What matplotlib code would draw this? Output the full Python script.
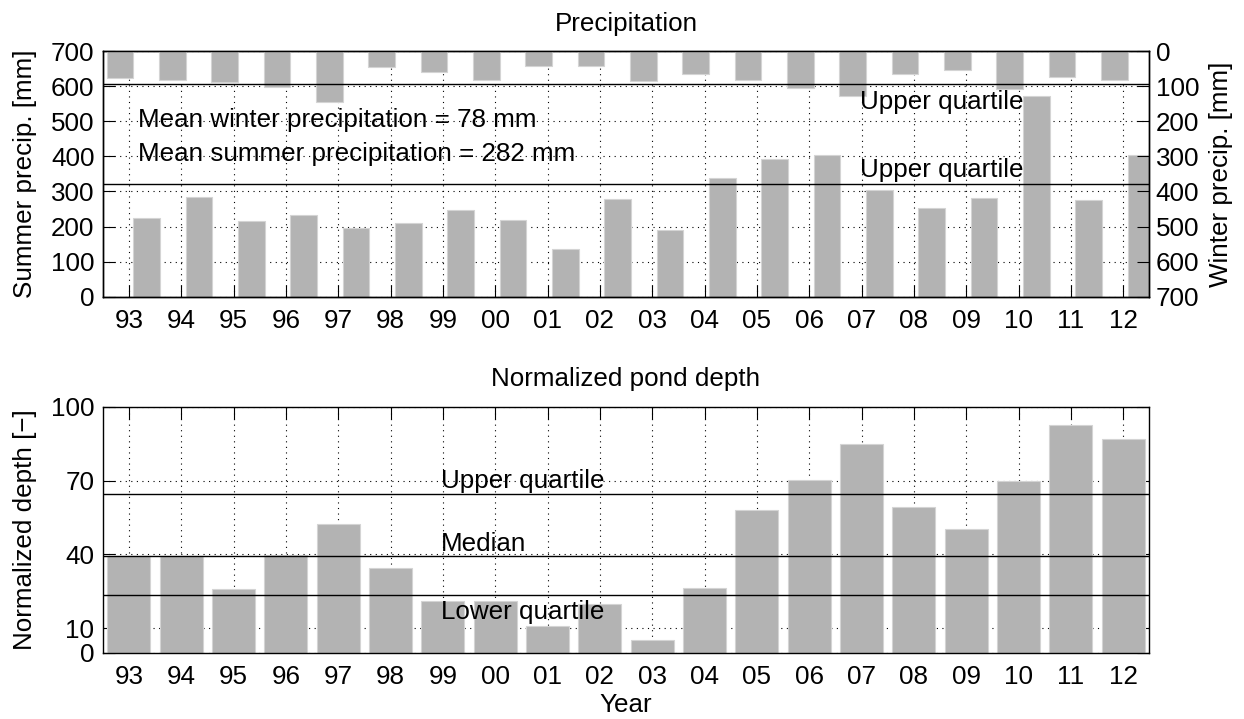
import numpy as np
import matplotlib.pyplot as plt

plt.rcParams['font.family'] = ['Liberation Sans', 'DejaVu Sans']
plt.rcParams['font.size'] = 18.7

# data
years = ['93', '94', '95', '96', '97', '98', '99', '00', '01', '02',
         '03', '04', '05', '06', '07', '08', '09', '10', '11', '12']
winter = [76, 82, 88, 102, 145, 46, 59, 82, 43, 43,
          84, 64, 82, 106, 128, 64, 54, 108, 73, 82]
summer = [224, 284, 215, 234, 197, 209, 248, 219, 135, 278,
          189, 338, 392, 404, 305, 254, 280, 572, 275, 404]
depth = [39.2, 39.2, 26.1, 39.6, 52.4, 34.6, 21.1, 21.1, 10.8, 19.7,
         5.3, 26.5, 58.0, 70.3, 84.7, 59.2, 50.4, 69.9, 92.4, 86.9]

winter_uq = 95
summer_uq = 321
depth_uq = 64.4
depth_med = 39.3
depth_lq = 23.5

bar_col = '#b3b3b3'
edge_col = '#d4d4d4'
grid_kw = dict(color='k', linestyle=(0, (1, 4)), linewidth=0.8)

x = np.arange(len(years))

fig = plt.figure(figsize=(12.44, 7.19), dpi=100)

# ---- precipitation panel ----
ax1 = fig.add_axes([0.0826, 0.5873, 0.8413, 0.3417])
ax1.bar(x + 0.34, summer, width=0.51, color=bar_col, edgecolor=edge_col, linewidth=0.8)
ax1.set_xlim(-0.5, 19.5)
ax1.set_ylim(0, 700)
ax1.set_yticks(range(0, 701, 100))
ax1.set_xticks(x)
ax1.set_xticklabels(years)
ax1.set_axisbelow(True)
ax1.grid(True, **grid_kw)
ax1.tick_params(axis='x', direction='in', length=8.5, width=0.8, top=True, pad=9)
ax1.tick_params(axis='y', direction='in', length=8.5, width=0.8, pad=6)
ax1.axhline(summer_uq, color='k', linewidth=1.0, zorder=3)
ax1.set_ylabel('Summer precip. [mm]')
ax1.yaxis.set_label_coords(-0.0625, 0.5)
ax1.set_title('Precipitation', pad=14.6, fontsize=18.7)
ax1.text(0.17, 485, 'Mean winter precipitation = 78 mm', va='baseline', ha='left', zorder=4)
ax1.text(0.17, 387, 'Mean summer precipitation = 282 mm', va='baseline', ha='left', zorder=4)
ax1.text(13.97, 340, 'Upper quartile', va='baseline', ha='left', zorder=4)

ax2 = ax1.twinx()
ax2.bar(x - 0.17, winter, width=0.51, color=bar_col, edgecolor=edge_col, linewidth=0.8)
ax2.set_ylim(700, 0)
ax2.set_yticks(range(0, 701, 100))
ax2.tick_params(axis='y', direction='in', length=8.5, width=0.8, pad=4.6)
ax2.axhline(winter_uq, color='k', linewidth=1.0, zorder=3)
ax2.text(13.97, 165, 'Upper quartile', va='baseline', ha='left', zorder=4)
ax2.set_ylabel('Winter precip. [mm]')
ax2.yaxis.set_label_coords(1.057, 0.5)

# ---- pond depth panel ----
ax3 = fig.add_axes([0.0826, 0.0922, 0.8413, 0.3421])
ax3.bar(x, depth, width=0.82, color=bar_col, edgecolor=edge_col, linewidth=0.8)
ax3.set_xlim(-0.5, 19.5)
ax3.set_ylim(0, 100)
ax3.set_yticks([0, 10, 40, 70, 100])
ax3.set_xticks(x)
ax3.set_xticklabels(years)
ax3.set_axisbelow(True)
ax3.grid(True, **grid_kw)
ax3.tick_params(axis='x', direction='in', length=8.5, width=0.8, top=True, pad=9)
ax3.tick_params(axis='y', direction='in', length=8.5, width=0.8, right=True, pad=6)
for val in [depth_uq, depth_med, depth_lq]:
    ax3.axhline(val, color='k', linewidth=1.0, zorder=3)
ax3.text(5.97, 67.1, 'Upper quartile', va='baseline', ha='left', zorder=4)
ax3.text(5.97, 41.5, 'Median', va='baseline', ha='left', zorder=4)
ax3.text(5.97, 13.6, 'Lower quartile', va='baseline', ha='left', zorder=4)
ax3.set_ylabel('Normalized depth [\u2212]')
ax3.yaxis.set_label_coords(-0.0625, 0.5)
ax3.set_xlabel('Year')
ax3.xaxis.set_label_coords(0.5, -0.165)
ax3.set_title('Normalized pond depth', pad=14.6, fontsize=18.7)

for ax in [ax1, ax2, ax3]:
    for s in ax.spines.values():
        s.set_linewidth(1.0)

fig.savefig('out.png', dpi=100)
